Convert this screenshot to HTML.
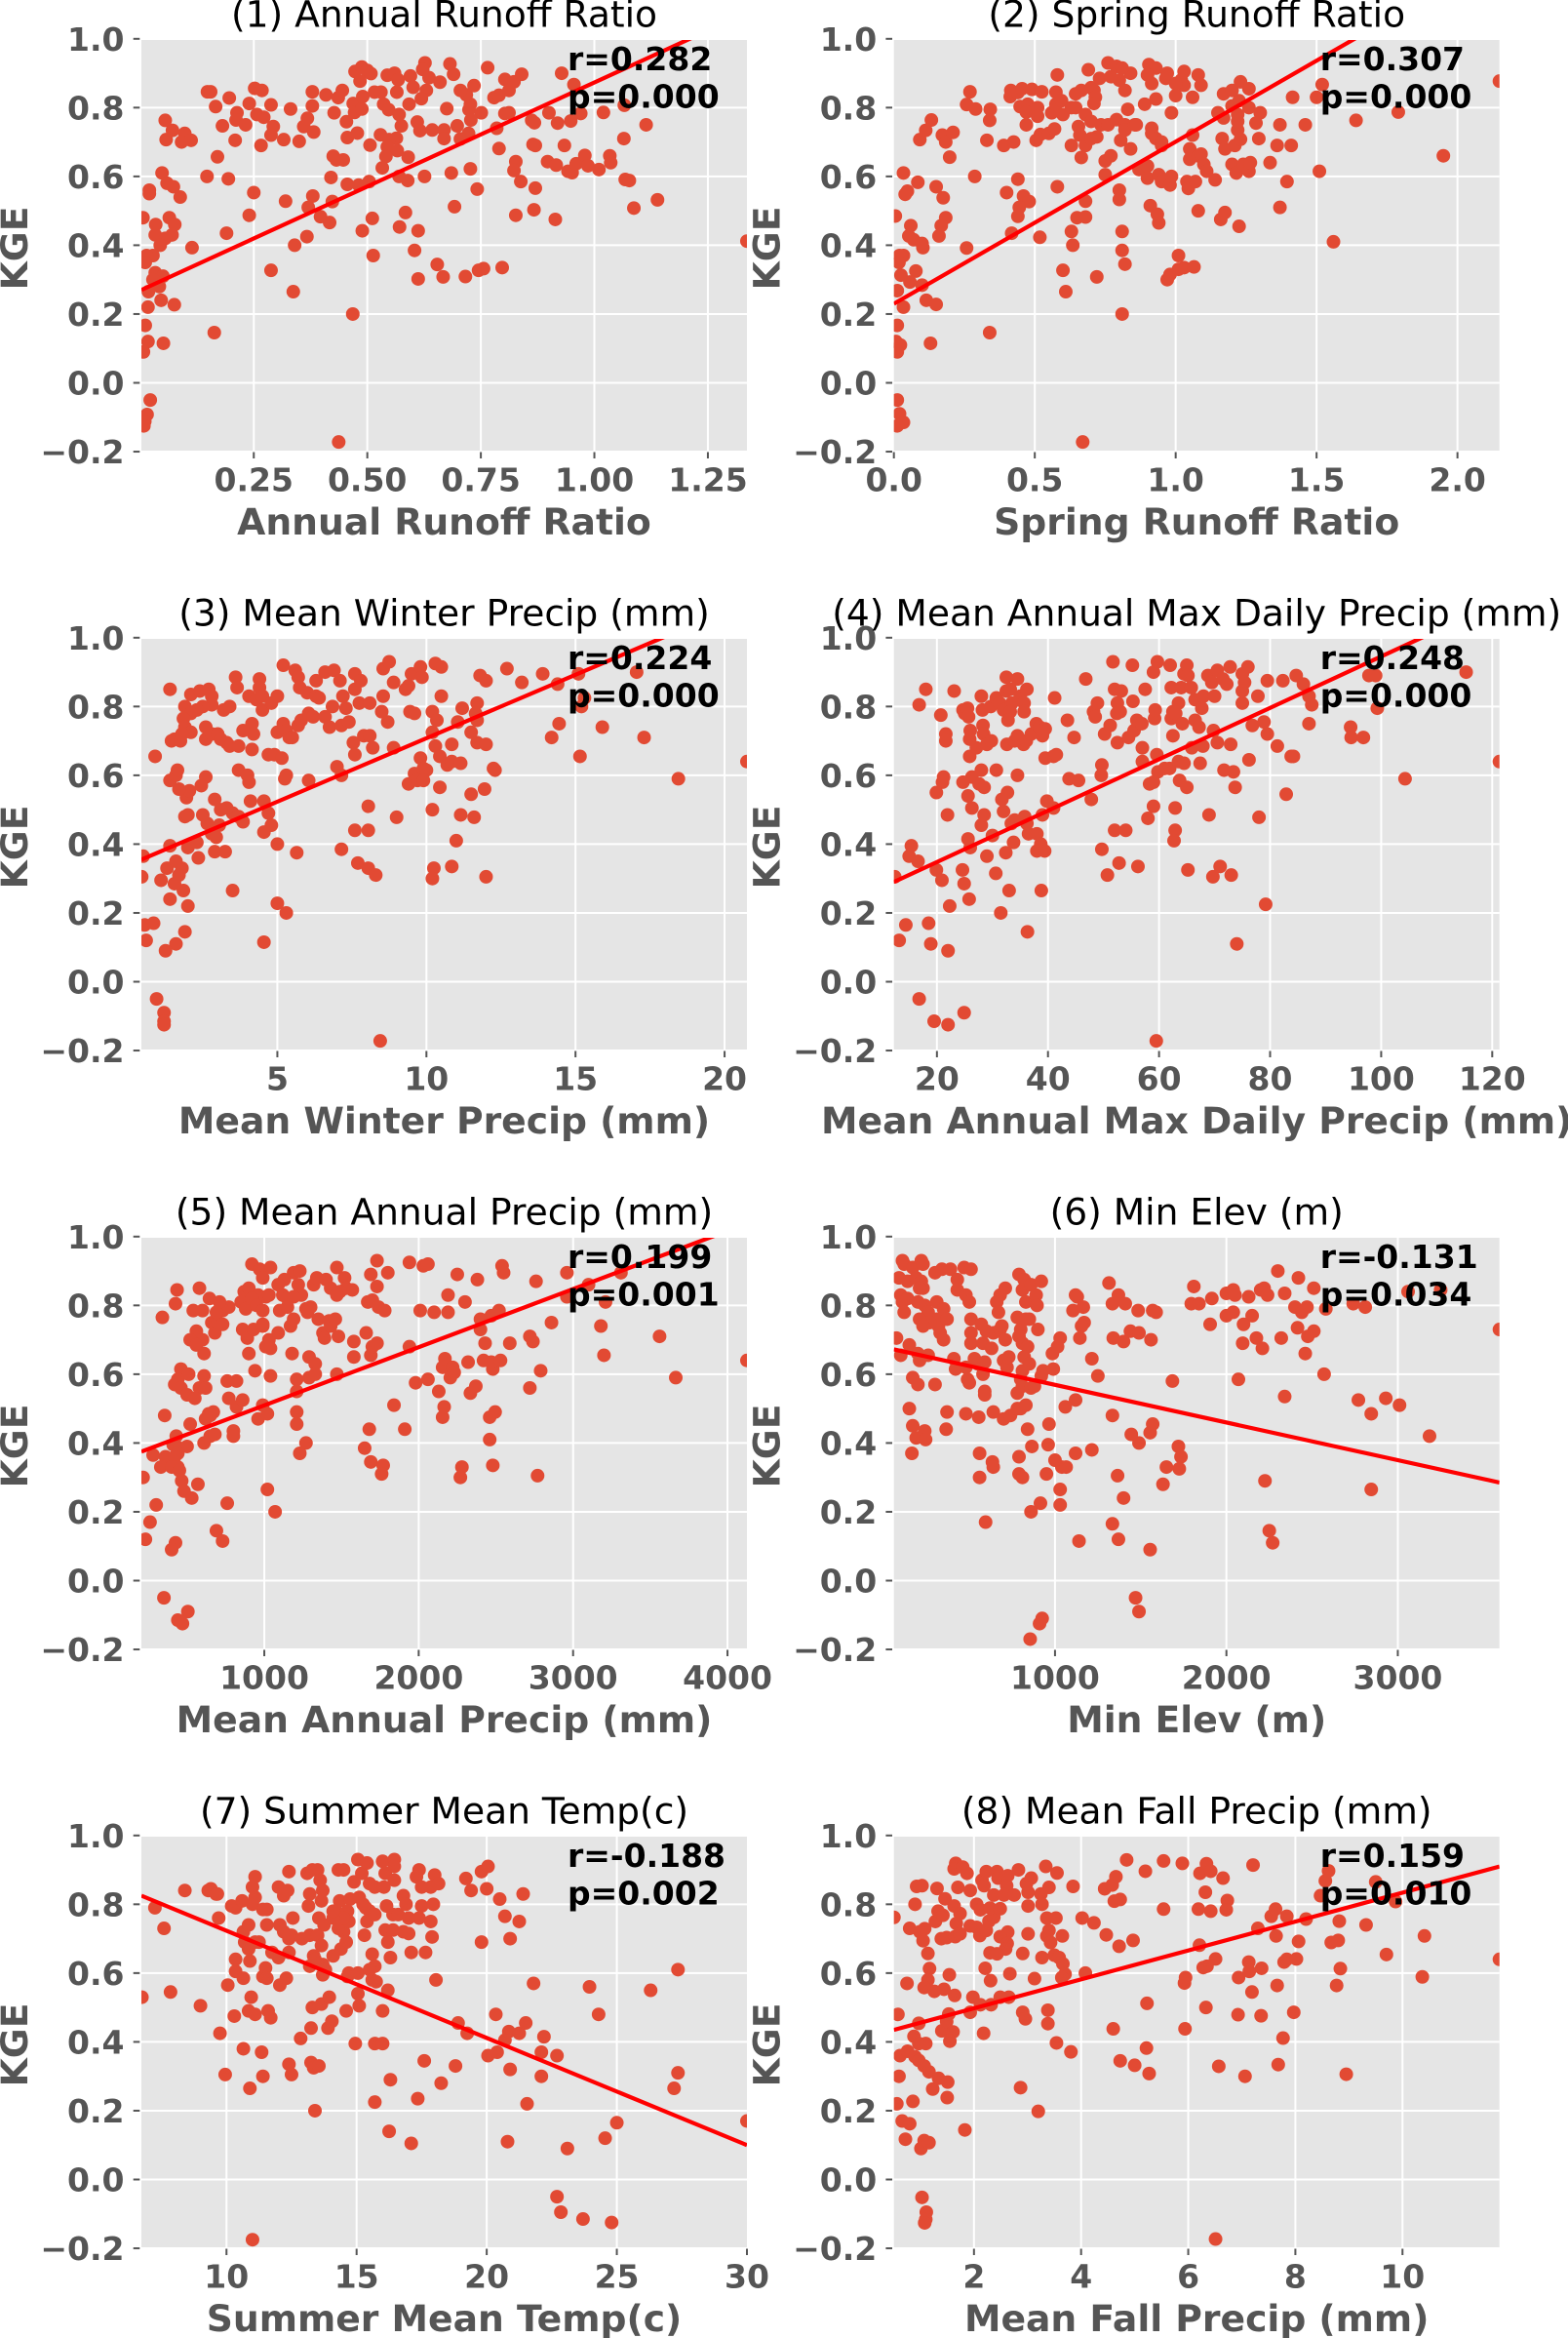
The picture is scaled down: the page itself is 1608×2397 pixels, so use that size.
<!DOCTYPE html>
<html lang="en">
<head>
<meta charset="utf-8">
<title>KGE scatter panels</title>
<style>
html,body{margin:0;padding:0;background:#fff;}
svg{display:block;}
text{font-family:"DejaVu Sans","Liberation Sans",sans-serif;}
</style>
</head>
<body>
<svg id="figure" xmlns="http://www.w3.org/2000/svg" width="1608" height="2397" viewBox="0 0 1608 2397"></svg>
<script>
const panelTitles = ["(1) Annual Runoff Ratio","(2) Spring Runoff Ratio","(3) Mean Winter Precip (mm)","(4) Mean Annual Max Daily Precip (mm)","(5) Mean Annual Precip (mm)","(6) Min Elev (m)","(7) Summer Mean Temp(c)","(8) Mean Fall Precip (mm)"];
const xAxisLabels = ["Annual Runoff Ratio","Spring Runoff Ratio","Mean Winter Precip (mm)","Mean Annual Max Daily Precip (mm)","Mean Annual Precip (mm)","Min Elev (m)","Summer Mean Temp(c)","Mean Fall Precip (mm)"];
const yAxisLabel = "KGE";
const yTicks = [-0.2,0,0.2,0.4,0.6,0.8,1];
const yTickLabels = ["\u22120.2","0.0","0.2","0.4","0.6","0.8","1.0"];
const xMins = [0.0025,0,0.44,12.25,204,60,6.73,0.505];
const xMaxs = [1.336,2.149,20.75,121.3,4126,3593,30,11.81];
const xTicks1 = [0.25,0.5,0.75,1,1.25];
const xTicks2 = [0,0.5,1,1.5,2];
const xTicks3 = [5,10,15,20];
const xTicks4 = [20,40,60,80,100,120];
const xTicks5 = [1000,2000,3000,4000];
const xTicks6 = [1000,2000,3000];
const xTicks7 = [10,15,20,25,30];
const xTicks8 = [2,4,6,8,10];
const xTickLabels1 = ["0.25","0.50","0.75","1.00","1.25"];
const xTickLabels2 = ["0.0","0.5","1.0","1.5","2.0"];
const xTickLabels3 = ["5","10","15","20"];
const xTickLabels4 = ["20","40","60","80","100","120"];
const xTickLabels5 = ["1000","2000","3000","4000"];
const xTickLabels6 = ["1000","2000","3000"];
const xTickLabels7 = ["10","15","20","25","30"];
const xTickLabels8 = ["2","4","6","8","10"];
const fitSlopes = [0.6045,0.471,0.0369,0.00747,0.000169,-0.0001095,-0.03116,0.042];
const fitIntercepts = [0.2685,0.23,0.3388,0.1985,0.3405,0.6786,1.0347,0.4138];
const rLabels = ["r=0.282","r=0.307","r=0.224","r=0.248","r=0.199","r=-0.131","r=-0.188","r=0.159"];
const pLabels = ["p=0.000","p=0.000","p=0.000","p=0.000","p=0.001","p=0.034","p=0.002","p=0.010"];

const points1 = [[.02,.56],[.02,.55],[.006,.48],[.034,.46],[.033,.43],[.048,.61],[.059,.58],[.073,.57],[.088,.54],[.064,.48],[.076,.46],[.07,.43],[.055,.42],[.044,.40],[.028,.37],[.014,.37],[.011,.35],[.033,.32],[.05,.31],[.028,.30],[.042,.28],[.018,.265],[.017,.22],[.046,.24],[.075,.227],[.011,.167],[.017,.12],[.007,.09],[.051,.115],[.022,-.05],[.015,-.092],[.01,-.112],[.008,-.125],[.114,.393],[.055,.763],[.057,.707],[.071,.734],[.098,.725],[.091,.70],[.112,.705],[.148,.846],[.155,.846],[.166,.803],[.196,.828],[.181,.747],[.213,.785],[.211,.764],[.232,.75],[.209,.705],[.24,.812],[.252,.856],[.268,.85],[.257,.78],[.272,.772],[.288,.808],[.293,.745],[.288,.72],[.266,.69],[.316,.707],[.331,.796],[.35,.702],[.36,.745],[.368,.769],[.379,.805],[.382,.729],[.379,.846],[.409,.837],[.427,.785],[.436,.829],[.445,.85],[.454,.759],[.456,.713],[.478,.726],[.469,.812],[.472,.786],[.488,.796],[.49,.832],[.473,.905],[.488,.918],[.5,.908],[.508,.899],[.484,.877],[.544,.894],[.56,.9],[.568,.881],[.595,.892],[.516,.845],[.53,.845],[.536,.81],[.547,.794],[.565,.845],[.601,.859],[.63,.85],[.619,.826],[.592,.81],[.57,.78],[.575,.747],[.529,.721],[.564,.711],[.548,.707],[.544,.686],[.566,.675],[.541,.658],[.533,.625],[.59,.656],[.61,.758],[.616,.733],[.643,.735],[.669,.735],[.669,.71],[.698,.747],[.675,.797],[.724,.794],[.727,.81],[.718,.837],[.705,.85],[.735,.864],[.69,.897],[.682,.927],[.627,.93],[.622,.911],[.636,.887],[.66,.874],[.765,.916],[.751,.785],[.728,.764],[.723,.725],[.705,.709],[.785,.74],[.79,.681],[.779,.829],[.79,.836],[.803,.882],[.812,.85],[.823,.875],[.84,.897],[.803,.783],[.812,.785],[.862,.763],[.868,.756],[.9,.785],[.919,.755],[.948,.761],[.97,.783],[1.02,.786],[1.066,.807],[1.114,.75],[1.065,.71],[.934,.69],[.87,.69],[.865,.693],[.827,.643],[.823,.617],[.838,.585],[.87,.566],[.897,.643],[.916,.633],[.942,.615],[.951,.611],[.96,.637],[.979,.661],[.986,.631],[1.01,.62],[1.034,.66],[1.036,.64],[1.068,.591],[1.077,.588],[1.087,.508],[1.139,.532],[.914,.475],[.867,.503],[.827,.487],[.928,.9],[.955,.867],[1.336,.412],[.742,.563],[.727,.622],[.692,.512],[.685,.61],[.626,.6],[.589,.588],[.57,.6],[.504,.585],[.481,.575],[.456,.577],[.42,.597],[.447,.648],[.432,.648],[.425,.659],[.147,.6],[.194,.593],[.17,.657],[.25,.553],[.32,.528],[.38,.543],[.37,.51],[.423,.527],[.397,.483],[.417,.466],[.24,.487],[.19,.435],[.34,.4],[.367,.425],[.489,.442],[.511,.478],[.584,.495],[.571,.453],[.612,.442],[.604,.385],[.513,.37],[.654,.344],[.667,.308],[.612,.302],[.716,.309],[.745,.327],[.756,.332],[.797,.335],[.288,.327],[.337,.265],[.468,.2],[.163,.146],[.437,-.172],[.506,.691]];
const points2 = [[.005,.485],[.034,.61],[.085,.583],[.048,.557],[.04,.548],[.06,.457],[.053,.427],[.07,.416],[.10,.405],[.103,.393],[.15,.57],[.175,.538],[.184,.48],[.168,.457],[.16,.427],[.02,.37],[.034,.37],[.018,.35],[.025,.313],[.012,.268],[.078,.325],[.057,.293],[.10,.284],[.115,.24],[.15,.228],[.034,.22],[.012,.167],[.007,.12],[.023,.11],[.012,.09],[.13,.115],[.34,.146],[.012,-.05],[.02,-.09],[.034,-.115],[.012,-.125],[.092,.707],[.113,.734],[.133,.764],[.172,.72],[.184,.70],[.21,.728],[.198,.656],[.258,.809],[.27,.846],[.29,.796],[.342,.795],[.34,.763],[.33,.705],[.39,.69],[.425,.70],[.287,.6],[.4,.553],[.44,.592],[.46,.543],[.48,.527],[.445,.51],[.44,.484],[.418,.435],[.518,.423],[.258,.392],[.413,.832],[.415,.85],[.44,.844],[.455,.855],[.49,.853],[.525,.846],[.448,.803],[.475,.81],[.47,.787],[.51,.8],[.51,.775],[.47,.75],[.505,.705],[.52,.722],[.55,.725],[.57,.738],[.56,.785],[.575,.845],[.575,.81],[.6,.78],[.595,.82],[.63,.8],[.645,.84],[.665,.85],[.7,.858],[.71,.85],[.715,.83],[.71,.812],[.645,.8],[.68,.78],[.7,.76],[.655,.745],[.66,.72],[.68,.69],[.72,.715],[.7,.71],[.63,.69],[.665,.655],[.75,.645],[.77,.66],[.75,.605],[.735,.75],[.76,.75],[.79,.765],[.82,.75],[.805,.705],[.84,.68],[.83,.795],[.82,.85],[.82,.735],[.855,.75],[.86,.75],[.87,.62],[.89,.81],[.84,.9],[.80,.88],[.76,.93],[.79,.92],[.73,.885],[.77,.89],[.81,.915],[.69,.91],[.58,.895],[.905,.925],[.93,.915],[.90,.895],[.915,.87],[.97,.9],[.965,.885],[1.03,.905],[1.02,.88],[1.03,.865],[1.08,.895],[1.09,.865],[1,.87],[.93,.825],[1.0,.835],[1.06,.83],[.985,.785],[.915,.74],[.915,.725],[.93,.71],[.95,.7],[.95,.69],[1.06,.72],[1.05,.68],[1.05,.65],[1.08,.66],[1.09,.665],[1.1,.635],[1.11,.615],[.9,.63],[.9,.595],[.94,.605],[.95,.585],[.98,.575],[.985,.6],[1.04,.585],[1.045,.565],[1.07,.585],[1.14,.59],[.91,.515],[.935,.49],[.94,.465],[1.08,.5],[1.16,.475],[1.175,.495],[1.225,.455],[1.165,.71],[1.175,.68],[1.21,.69],[1.23,.708],[1.22,.735],[1.22,.76],[1.22,.78],[1.15,.785],[1.17,.77],[1.17,.84],[1.2,.85],[1.2,.805],[1.23,.875],[1.26,.855],[1.26,.80],[1.225,.82],[1.3,.785],[1.285,.755],[1.295,.71],[1.2,.635],[1.215,.61],[1.24,.635],[1.26,.615],[1.265,.64],[1.335,.64],[1.36,.69],[1.37,.75],[1.41,.69],[1.395,.585],[1.37,.51],[1.415,.83],[1.46,.75],[1.5,.83],[1.52,.867],[1.51,.615],[1.56,.41],[1.64,.763],[1.79,.787],[1.95,.66],[2.149,.877],[.63,.44],[.635,.4],[.6,.327],[.61,.265],[.72,.308],[.81,.385],[.81,.44],[.82,.345],[.81,.2],[.67,-.172],[.97,.3],[.98,.315],[1.01,.37],[1.01,.33],[1.03,.335],[1.065,.337],[.65,.48],[.68,.482],[.68,.528],[.8,.56],[.8,.533],[.58,.57]];
const points3 = [[.5,.365],[.45,.305],[1.9,.48],[.9,.655],[1.4,.85],[1.9,.8],[2.1,.835],[2.4,.845],[2.7,.85],[2.8,.83],[2.8,.805],[2.5,.8],[2.3,.79],[2.1,.78],[1.85,.765],[1.9,.74],[2.1,.725],[1.45,.7],[1.55,.705],[1.75,.7],[1.8,.72],[2.6,.705],[2.6,.74],[2.8,.72],[3.0,.72],[3.1,.705],[3.3,.695],[3.4,.685],[3.7,.685],[3.2,.79],[3.4,.8],[3.6,.885],[3.65,.855],[4.05,.83],[4.4,.88],[4.4,.855],[4.3,.82],[4.5,.83],[4.5,.79],[4.8,.81],[5.0,.83],[5.0,.725],[5.2,.75],[5.3,.73],[5.4,.71],[5.5,.71],[4.15,.75],[4.2,.72],[3.85,.73],[4.15,.675],[4.7,.66],[4.9,.66],[5.15,.65],[5.2,.92],[5.6,.905],[5.7,.885],[5.75,.855],[6.0,.84],[6.3,.83],[6.4,.825],[6.3,.875],[6.6,.9],[6.9,.905],[7.1,.875],[5.7,.745],[5.8,.76],[6.05,.78],[6.2,.77],[6.6,.77],[6.75,.74],[7.15,.745],[7.4,.755],[6.85,.80],[7.2,.83],[7.3,.795],[7.6,.895],[7.6,.85],[7.8,.875],[7.75,.81],[8.1,.81],[8.5,.785],[8.7,.755],[8.55,.83],[8.55,.91],[8.75,.93],[8.9,.87],[9.3,.85],[9.4,.86],[9.5,.895],[9.45,.785],[9.6,.78],[9.8,.915],[9.85,.885],[7.55,.695],[7.9,.715],[8.1,.715],[8.2,.68],[8.9,.68],[7.6,.66],[7.0,.625],[7.15,.6],[9.6,.605],[9.8,.65],[9.9,.62],[10.0,.615],[9.4,.575],[9.7,.585],[9.9,.585],[10.2,.725],[10.2,.785],[10.35,.76],[10.3,.685],[10.45,.655],[10.7,.63],[10.85,.64],[11.15,.635],[10.85,.69],[11.05,.755],[11.2,.795],[11.5,.725],[11.7,.81],[11.65,.78],[11.7,.76],[11.7,.695],[12,.69],[10.3,.925],[10.5,.915],[10.5,.83],[11.8,.89],[12,.875],[12.7,.91],[13.2,.87],[13.9,.895],[14.4,.865],[15.1,.895],[15.2,.8],[15.3,.825],[14.2,.71],[14.45,.75],[15.9,.74],[17.05,.9],[17.3,.71],[15.15,.655],[18.45,.59],[20.75,.64],[10.45,.565],[11.5,.545],[11.95,.56],[12.25,.62],[12.3,.615],[10.2,.5],[11.15,.485],[11.6,.478],[9,.478],[8.05,.51],[7.6,.44],[8.05,.44],[7.15,.385],[7.7,.345],[8.05,.33],[8.3,.31],[10.25,.33],[10.2,.3],[10.85,.335],[11,.41],[12,.305],[5.65,.375],[5.0,.4],[5,.228],[5.3,.2],[4.55,.115],[8.45,-.172],[3.5,.265],[1.6,.11],[1.25,.09],[.6,.12],[.55,.165],[.85,.17],[1.9,.145],[2,.22],[1.4,.24],[1.85,.265],[1.1,.295],[1.55,.285],[1.8,.33],[1.3,.33],[1.6,.35],[1.7,.31],[2.35,.36],[2.9,.378],[3.25,.378],[1.4,.395],[2,.39],[2.3,.405],[2.8,.43],[2.95,.42],[3.05,.455],[2.65,.46],[2.5,.485],[2,.485],[3.85,.465],[3.5,.49],[3.7,.48],[3.3,.505],[3.1,.5],[2.9,.53],[4.1,.525],[4.55,.435],[4.8,.455],[4.7,.49],[4.55,.525],[5.25,.59],[5.3,.6],[6.05,.585],[2.6,.595],[2.45,.57],[1.95,.535],[2.05,.555],[1.7,.56],[1.4,.585],[1.6,.6],[1.65,.615],[3.7,.615],[4.0,.6],[4.05,.58],[.95,-.05],[1.2,-.09],[1.2,-.115],[1.2,-.125]];
const points4 = [[13.2,.12],[14.4,.165],[12.4,.305],[15,.365],[15.4,.395],[16.6,.35],[18.5,.17],[18.9,.11],[16.8,-.05],[19.5,-.115],[22,-.125],[24.9,-.09],[22,.09],[22.3,.22],[25.8,.24],[24.9,.285],[24.6,.325],[19.9,.325],[20.9,.295],[21,.58],[21.2,.595],[19.9,.55],[21.9,.485],[18,.85],[16.8,.805],[20.7,.775],[21.6,.72],[21.6,.7],[23.1,.845],[24.7,.79],[25,.78],[25.5,.795],[25.7,.77],[26,.73],[25.9,.705],[25.9,.655],[27.1,.68],[28,.83],[28.2,.79],[28.3,.745],[28.4,.72],[29,.69],[29.8,.7],[29.7,.8],[30.7,.825],[31.3,.81],[32,.79],[32.5,.845],[32.5,.885],[33.2,.85],[33.5,.81],[33.2,.785],[32.8,.76],[34.5,.88],[35,.83],[36.2,.85],[35.7,.81],[35.7,.785],[32.6,.69],[34,.7],[34.5,.715],[35.6,.69],[36.1,.7],[37,.72],[37.9,.75],[38.5,.74],[39,.715],[39.5,.735],[39.5,.65],[41,.655],[41.5,.66],[41.2,.825],[43.5,.76],[44.7,.71],[43.8,.59],[45.5,.585],[46.8,.88],[48.2,.785],[48.5,.77],[48.9,.81],[50.2,.72],[49.7,.63],[49.6,.6],[47.8,.53],[51.2,.745],[52,.85],[52.5,.81],[52.4,.78],[53,.785],[53.2,.845],[52.5,.695],[54.5,.71],[55.5,.73],[56,.76],[55.2,.92],[55.3,.815],[51.7,.93],[57.5,.85],[56.9,.75],[57,.68],[57,.64],[59,.9],[59.7,.93],[59.2,.765],[59.3,.79],[59.6,.66],[62,.92],[62.2,.855],[62.2,.765],[62.5,.785],[63,.78],[63.5,.81],[64,.855],[64.5,.895],[65,.92],[65.2,.89],[65.8,.855],[66.5,.82],[68,.83],[67.7,.795],[66.5,.76],[67.2,.74],[64.2,.75],[62.5,.715],[65.9,.68],[67.9,.685],[61,.62],[61.9,.62],[63.5,.64],[64.5,.635],[67.4,.635],[59.8,.61],[59,.58],[58.3,.575],[63.7,.585],[65,.565],[62.9,.505],[59,.51],[58,.475],[52,.44],[54,.44],[62.9,.44],[62.7,.41],[49.7,.385],[52.8,.345],[56.2,.335],[50.7,.31],[65.2,.325],[69.7,.305],[71,.335],[73,.31],[79.2,.225],[74,.11],[59.5,-.172],[38.8,.265],[36.3,.145],[31.5,.2],[33,.265],[30.6,.315],[29,.365],[32.4,.375],[33.8,.405],[26,.39],[25.6,.415],[30,.425],[28,.455],[28.5,.485],[32,.495],[33.4,.46],[34,.47],[35.8,.48],[36.2,.46],[36.5,.43],[38,.43],[38.7,.4],[38,.38],[39.4,.38],[39,.485],[41,.505],[39.8,.525],[25.6,.54],[26.3,.505],[32.7,.55],[31.7,.53],[26.3,.595],[24.7,.58],[27.6,.575],[28.5,.565],[28,.615],[30.7,.615],[34.5,.6],[68.8,.89],[69.5,.87],[70.5,.905],[71.5,.88],[72.2,.865],[72.8,.915],[75,.895],[75.4,.87],[76,.915],[75,.845],[75,.81],[77.8,.83],[79.5,.875],[82.3,.875],[84.7,.89],[86,.865],[87,.83],[87.5,.805],[70,.83],[69.8,.73],[70.5,.695],[72.9,.69],[76.8,.745],[78.9,.755],[79.5,.72],[81.3,.685],[83.8,.655],[84.2,.655],[76.2,.645],[71.7,.615],[73.4,.61],[73.7,.565],[82.9,.545],[69,.485],[78,.478],[87,.75],[94.5,.74],[94.6,.71],[96.8,.71],[97.8,.89],[99,.89],[99.3,.795],[104.3,.59],[115.3,.9],[121.3,.64]];
const points5 = [[215,.3],[230,.12],[260,.17],[300,.22],[280,.365],[355,.48],[340,.765],[425,.805],[435,.845],[540,.785],[580,.85],[600,.785],[600,.7],[645,.82],[560,.725],[520,.7],[560,.685],[610,.66],[460,.615],[440,.585],[420,.57],[460,.56],[500,.54],[510,.6],[580,.56],[550,.53],[610,.595],[430,.42],[520,.455],[640,.485],[620,.47],[670,.49],[650,.42],[680,.425],[610,.4],[410,.395],[450,.385],[500,.39],[440,.37],[360,.36],[420,.36],[330,.33],[440,.33],[400,.33],[450,.32],[465,.29],[480,.26],[570,.28],[530,.24],[425,.11],[400,.09],[690,.145],[730,.115],[760,.225],[350,-.05],[440,-.115],[470,-.125],[505,-.09],[660,.75],[680,.72],[700,.75],[730,.745],[770,.795],[820,.505],[860,.525],[770,.53],[800,.435],[800,.42],[820,.58],[940,.61],[900,.66],[860,.73],[890,.705],[930,.73],[990,.74],[1030,.70],[1040,.675],[1010,.68],[1090,.72],[1170,.74],[1190,.76],[1180,.66],[1210,.585],[1040,.595],[960,.47],[1020,.485],[990,.51],[1290,.59],[1290,.65],[1330,.63],[1330,.6],[1270,.79],[1300,.795],[1350,.76],[1420,.755],[1380,.72],[1390,.705],[1480,.71],[1470,.6],[1580,.695],[1580,.65],[1660,.72],[1690,.655],[1700,.68],[1730,.69],[1940,.68],[1210,.55],[1210,.49],[1210,.455],[1270,.4],[1230,.37],[1650,.385],[1690,.345],[1770,.335],[1760,.31],[1680,.44],[1840,.51],[1910,.44],[2130,.55],[1980,.575],[2060,.585],[2155,.475],[2165,.505],[2155,.62],[2170,.645],[2205,.59],[2220,.62],[2230,.605],[2320,.635],[2335,.545],[2370,.565],[2420,.64],[2480,.615],[2470,.635],[2530,.64],[2460,.475],[2495,.49],[2460,.41],[2480,.335],[2770,.305],[2280,.33],[2270,.3],[2720,.56],[2790,.61],[2740,.695],[2720,.71],[2590,.69],[2430,.69],[2400,.73],[2400,.76],[2470,.77],[2520,.785],[2860,.75],[3180,.74],[3200,.655],[3560,.71],[3665,.59],[4126,.64],[3210,.81],[3100,.86],[3310,.895],[2960,.895],[2960,.825],[2760,.87],[2540,.915],[2550,.895],[2380,.875],[2250,.89],[2190,.83],[2300,.81],[2010,.785],[2100,.78],[2190,.78],[1940,.925],[2030,.915],[2060,.92],[1800,.895],[1730,.93],[1690,.89],[1730,.855],[1470,.91],[1520,.88],[1530,.85],[1570,.845],[1670,.81],[1700,.815],[1740,.795],[1780,.785],[1280,.78],[1220,.86],[1240,.83],[1320,.86],[1340,.88],[1400,.875],[1430,.85],[1490,.84],[1470,.83],[1190,.895],[1230,.9],[1130,.875],[1040,.91],[920,.92],[970,.905],[990,.88],[870,.84],[900,.85],[960,.83],[1010,.825],[1030,.83],[1090,.86],[1120,.83],[1150,.82],[1190,.825],[850,.81],[880,.79],[920,.82],[950,.8],[990,.785],[1100,.785],[1150,.795],[990,.745],[730,.785],[690,.78],[710,.81],[760,.58],[1020,.265],[1070,.2],[650,.48],[620,.56],[1430,.74],[1460,.76]];
const points6 = [[110,.93],[90,.88],[120,.92],[140,.87],[170,.91],[220,.93],[230,.92],[190,.88],[220,.87],[230,.85],[210,.85],[100,.83],[110,.81],[140,.82],[120,.78],[200,.81],[240,.8],[260,.78],[310,.81],[310,.76],[320,.74],[350,.79],[370,.76],[330,.72],[350,.70],[270,.75],[210,.76],[230,.74],[300,.895],[340,.905],[390,.905],[430,.875],[430,.845],[480,.83],[500,.81],[470,.91],[510,.905],[75,.705],[150,.685],[100,.655],[200,.66],[210,.64],[170,.59],[200,.57],[300,.57],[410,.645],[420,.615],[480,.62],[490,.585],[500,.575],[530,.645],[550,.63],[590,.635],[580,.6],[590,.55],[590,.54],[510,.76],[570,.745],[510,.72],[510,.69],[580,.69],[630,.675],[600,.725],[640,.72],[670,.725],[680,.73],[660,.81],[680,.83],[710,.85],[670,.78],[690,.74],[710,.70],[700,.64],[720,.62],[730,.65],[790,.89],[820,.875],[810,.845],[830,.81],[780,.765],[800,.73],[790,.71],[810,.69],[840,.68],[820,.65],[850,.63],[810,.61],[800,.585],[780,.545],[810,.565],[860,.56],[880,.565],[850,.76],[830,.76],[860,.86],[890,.83],[895,.8],[920,.87],[900,.73],[920,.595],[930,.61],[990,.615],[985,.66],[1015,.68],[1030,.705],[1105,.785],[1120,.83],[1130,.825],[1165,.795],[1170,.75],[1155,.74],[1145,.705],[1215,.645],[1250,.595],[1120,.525],[1060,.505],[1315,.865],[1335,.805],[1370,.83],[1410,.805],[1485,.785],[1570,.785],[1590,.78],[1340,.705],[1400,.695],[1440,.725],[1490,.72],[1560,.70],[1685,.58],[1810,.855],[1795,.805],[1840,.805],[1915,.82],[1905,.745],[2000,.835],[2040,.845],[2050,.83],[2130,.825],[2000,.77],[2040,.78],[2150,.77],[2100,.745],[2175,.705],[2210,.675],[2095,.69],[2200,.845],[2220,.85],[2240,.83],[2300,.9],[2340,.835],[2320,.705],[2415,.735],[2400,.795],[2440,.78],[2470,.795],[2420,.88],[2510,.85],[2580,.79],[2510,.725],[2475,.71],[2460,.66],[2570,.6],[2070,.585],[2340,.535],[2770,.525],[2930,.53],[3010,.51],[2845,.485],[3185,.42],[2225,.29],[2845,.265],[2250,.145],[2270,.11],[2740,.805],[2810,.795],[3060,.84],[3250,.845],[3593,.73],[260,.655],[150,.5],[190,.415],[170,.45],[240,.435],[245,.41],[165,.37],[365,.44],[370,.49],[480,.485],[555,.475],[640,.49],[700,.47],[740,.48],[780,.5],[800,.5],[830,.51],[840,.44],[865,.39],[560,.37],[635,.345],[640,.33],[560,.3],[790,.36],[790,.31],[810,.3],[950,.31],[960,.395],[965,.455],[1000,.35],[1040,.33],[1065,.33],[1120,.37],[1215,.38],[1335,.48],[1445,.425],[1490,.4],[1555,.43],[1570,.455],[1720,.39],[1735,.36],[1725,.325],[1650,.33],[1630,.28],[1365,.305],[1400,.24],[1030,.265],[1030,.22],[915,.225],[860,.2],[595,.17],[1140,.115],[1335,.165],[1370,.12],[1555,.09],[1470,-.05],[1490,-.09],[925,-.11],[910,-.125],[855,-.17]];
const points7 = [[6.75,.53],[7.25,.79],[7.6,.73],[7.85,.545],[8.4,.84],[9,.505],[9.3,.84],[9.4,.845],[9.6,.83],[9.65,.83],[9.7,.76],[9.75,.425],[9.95,.305],[10.05,.565],[10.2,.795],[10.35,.79],[10.6,.81],[10.3,.475],[10.35,.64],[10.35,.605],[10.65,.585],[10.65,.38],[10.85,.49],[10.9,.265],[10.9,.635],[10.95,.53],[11.1,.48],[10.65,.72],[10.85,.74],[10.7,.69],[10.85,.67],[11.1,.69],[11.25,.69],[11,.8],[11.1,.82],[11,.85],[11.1,.88],[11.4,.785],[11.55,.785],[11.55,.74],[11.35,.37],[11.4,.3],[11.4,.59],[11.5,.615],[11.55,.585],[11.6,.49],[11.7,.47],[12,.85],[12.05,.74],[11.75,.66],[12,.645],[12.05,.565],[12.2,.825],[12.35,.84],[12.4,.895],[12.4,.66],[12.3,.585],[12.2,.72],[12.4,.7],[12.55,.76],[12.5,.71],[12.9,.7],[12.85,.41],[12.4,.335],[12.5,.305],[13.1,.89],[13.2,.83],[13.3,.9],[13.2,.71],[13.35,.65],[13.15,.795],[13.25,.34],[13.3,.5],[13.65,.51],[13.25,.44],[13.35,.325],[13.55,.33],[13.5,.9],[13.6,.87],[13.7,.84],[13.65,.81],[13.55,.76],[13.75,.74],[13.5,.71],[13.65,.68],[13.7,.625],[13.7,.595],[13.95,.53],[13.9,.44],[14.05,.46],[14.1,.65],[14.3,.9],[14.5,.9],[14.2,.78],[14.35,.81],[14.5,.72],[14.3,.73],[14.7,.75],[14.75,.815],[14.65,.78],[14.6,.49],[14.7,.6],[14.65,.59],[14.9,.865],[14.95,.395],[15.05,.93],[15.2,.89],[15.1,.82],[15.3,.71],[15.4,.75],[15.05,.6],[15.1,.505],[15.05,.54],[15.4,.92],[15.5,.86],[15.7,.85],[15.5,.78],[15.7,.77],[15.6,.655],[15.7,.62],[15.5,.61],[15.6,.58],[15.75,.575],[15.7,.395],[15.7,.225],[16,.925],[16.1,.89],[16.05,.85],[16,.49],[16,.395],[16.1,.725],[16.15,.795],[16.2,.69],[16.3,.645],[16.45,.93],[16.45,.91],[16.45,.87],[16.4,.77],[16.4,.725],[16.2,.55],[16.3,.29],[16.25,.14],[16.6,.77],[16.8,.825],[16.9,.8],[16.8,.72],[17,.76],[17,.715],[17.1,.66],[17.1,.105],[17.3,.88],[17.4,.9],[17.5,.85],[17.5,.795],[17.4,.76],[17.6,.345],[17.35,.235],[17.65,.66],[17.85,.75],[17.85,.85],[17.95,.8],[17.9,.705],[18,.885],[18.15,.86],[18.05,.58],[18.25,.28],[18.8,.33],[18.9,.455],[19.2,.875],[19.25,.425],[19.4,.84],[19.8,.895],[19.8,.69],[20,.845],[20.05,.91],[20.05,.36],[20.35,.48],[20.4,.37],[20.5,.815],[20.7,.765],[20.7,.405],[20.8,.11],[20.85,.43],[20.9,.7],[20.9,.32],[21.25,.75],[21.25,.425],[21.4,.83],[21.5,.455],[21.55,.22],[21.8,.57],[22.1,.37],[22.1,.3],[22.2,.415],[22.7,.36],[22.7,-.05],[22.85,-.095],[23.1,.09],[23.7,-.115],[23.95,.56],[24.3,.48],[24.55,.12],[24.8,-.125],[25,.165],[26.3,.55],[27.2,.265],[27.35,.31],[27.35,.61],[30,.17],[11,-.175],[13.4,.2],[13.2,.62],[13.4,.64],[13.8,.61],[14.6,.69],[14.4,.67],[14.5,.76],[15.25,.8],[15.35,.79],[14.1,.76],[14.1,.78],[12.4,.71]];
const points8 = [[.505,.762],[.56,.22],[.58,.48],[.62,.36],[.6,.30],[.66,.17],[.8,.162],[.72,.117],[.86,.227],[.76,.373],[.75,.57],[.8,.73],[.9,.80],[.93,.852],[1.03,.854],[.97,.454],[.88,.416],[.97,.395],[1.1,.395],[.9,.357],[.97,.346],[1.07,.33],[1.16,.313],[1.23,.263],[1.34,.294],[1.51,.283],[1.5,.238],[1.01,.09],[1.07,.113],[1.16,.107],[1.03,-.052],[1.11,-.095],[1.1,-.116],[1.08,-.126],[1.83,.144],[1.08,.729],[.99,.72],[1.05,.694],[1.14,.657],[1.17,.613],[1.14,.58],[1.07,.558],[1.26,.547],[1.44,.553],[1.64,.535],[1.54,.595],[1.28,.75],[1.31,.846],[1.33,.78],[1.46,.816],[1.42,.768],[1.63,.795],[1.74,.773],[1.67,.744],[1.7,.849],[1.66,.919],[1.63,.903],[1.79,.908],[1.87,.89],[1.93,.84],[1.39,.70],[1.49,.703],[1.65,.706],[1.74,.714],[1.93,.737],[2.05,.733],[2.11,.709],[2.23,.724],[2.28,.751],[2.37,.762],[2.05,.80],[2.12,.784],[2.3,.789],[2.49,.787],[2.15,.87],[2.23,.895],[2.43,.895],[2.45,.876],[2.19,.854],[2.37,.827],[2.61,.854],[2.63,.883],[2.83,.90],[2.56,.827],[2.75,.827],[2.98,.86],[3.07,.876],[3.01,.835],[3.01,.795],[3.34,.91],[3.55,.891],[3.4,.849],[3.25,.83],[3.27,.80],[3.85,.852],[2.63,.719],[2.49,.706],[2.62,.686],[2.59,.67],[2.3,.659],[2.43,.656],[2.91,.657],[3.01,.714],[3.36,.76],[3.53,.76],[3.4,.724],[3.36,.708],[3.43,.689],[3.65,.708],[3.27,.645],[3.5,.652],[3.59,.645],[3.66,.627],[3.7,.597],[3.64,.587],[2.21,.614],[2.31,.578],[2.67,.598],[3.13,.584],[2.49,.53],[2.65,.53],[1.98,.53],[2.12,.508],[2.32,.508],[1.93,.486],[1.53,.481],[1.49,.459],[1.4,.432],[1.61,.429],[1.55,.402],[2.18,.425],[2.91,.486],[2.96,.467],[3.38,.492],[3.38,.453],[3.54,.397],[3.81,.371],[2.87,.267],[3.2,.198],[4.02,.76],[4.24,.746],[4.47,.711],[4.71,.678],[4.97,.695],[4.08,.60],[4.44,.845],[4.58,.856],[4.65,.88],[4.62,.809],[4.73,.814],[4.85,.929],[5.2,.896],[5.54,.926],[5.89,.919],[5.54,.786],[4.6,.438],[4.73,.345],[5,.332],[5.22,.382],[5.27,.308],[5.23,.512],[5.94,.438],[5.93,.571],[5.95,.587],[6.19,.786],[6.42,.78],[6.32,.835],[6.22,.89],[6.34,.918],[6.42,.896],[6.65,.876],[6.73,.811],[6.71,.784],[6.21,.681],[6.28,.616],[6.35,.62],[6.51,.641],[6.33,.50],[6.57,.329],[6.51,-.173],[6.93,.479],[6.94,.587],[7.19,.545],[7.14,.605],[7.13,.632],[7.37,.614],[7.36,.476],[7.06,.30],[7.21,.914],[7.3,.73],[7.55,.765],[7.63,.786],[7.64,.708],[7.66,.564],[7.77,.411],[7.68,.334],[7.79,.632],[7.84,.64],[7.84,.765],[7.97,.486],[8.06,.692],[8.02,.641],[8.2,.757],[8.62,.897],[8.56,.868],[8.47,.825],[8.67,.689],[8.8,.695],[8.82,.751],[8.84,.613],[8.77,.564],[8.95,.306],[9.32,.74],[9.5,.865],[9.7,.654],[9.87,.808],[10.37,.589],[10.41,.708],[11.81,.64]];

const kgeSeries = [points1,points2,points3,points4,points5,points6,points7,points8];
const xTickSets = [xTicks1,xTicks2,xTicks3,xTicks4,xTicks5,xTicks6,xTicks7,xTicks8];
const xTickLabelSets = [xTickLabels1,xTickLabels2,xTickLabels3,xTickLabels4,xTickLabels5,xTickLabels6,xTickLabels7,xTickLabels8];

const SVGNS = "http://www.w3.org/2000/svg";
const figure = document.getElementById("figure");
const panelLefts = [145, 916.7];
const panelTops = [41, 655, 1269, 1883];
const panelW = 621;
const panelH = 421;
const TICK = "#555555";

function make(parent, tag, attrs, content) {
  const el = document.createElementNS(SVGNS, tag);
  for (const k in attrs) el.setAttribute(k, attrs[k]);
  if (content !== undefined) el.textContent = content;
  parent.appendChild(el);
  return el;
}
function xAxis(i, v) {
  const left = panelLefts[i % 2];
  return left + (v - xMins[i]) / (xMaxs[i] - xMins[i]) * panelW;
}
function yAxis(i, v) {
  const top = panelTops[Math.floor(i / 2)];
  return top - 1.2 + (1 - v) * 352.7;
}

kgeSeries.forEach(function (points, i) {
  const left = panelLefts[i % 2];
  const top = panelTops[Math.floor(i / 2)];
  const right = left + panelW;
  const bottom = top + panelH;
  const cx = left + panelW / 2;

  const g = make(figure, "g", {});
  
  

  const clip = make(g, "clipPath", {id: "clip" + i});
  make(clip, "rect", {x: left, y: top, width: panelW, height: panelH});

  const bg = make(g, "rect", {x: left, y: top, width: panelW, height: panelH, fill: "#E5E5E5"});
  
  

  yTicks.forEach(function (t, k) {
    const y = yAxis(i, t);
    if (y > top + 1 && y < bottom - 1) {
      const grid = make(g, "line", {x1: left, x2: right, y1: y, y2: y, stroke: "#fff", "stroke-width": 2});
      
      
    }
    const tick = make(g, "line", {x1: left - 8.3, x2: left - 1.7, y1: y, y2: y, stroke: TICK, "stroke-width": 2});
    
    
    const label = make(g, "text", {x: left - 17.5, y: y + 12, "text-anchor": "end", "font-size": 33, "font-weight": "bold", fill: TICK}, yTickLabels[k]);
    
    
  });

  xTickSets[i].forEach(function (t, k) {
    const x = xAxis(i, t);
    if (x > left + 1 && x < right - 1) {
      const grid = make(g, "line", {x1: x, x2: x, y1: top, y2: bottom, stroke: "#fff", "stroke-width": 2});
      
      
    }
    const tick = make(g, "line", {x1: x, x2: x, y1: bottom + 1.5, y2: bottom + 8, stroke: TICK, "stroke-width": 2});
    
    
    const label = make(g, "text", {x: x, y: bottom + 41.5, "text-anchor": "middle", "font-size": 33, "font-weight": "bold", fill: TICK}, xTickLabelSets[i][k]);
    
    
  });

  const dots = make(g, "g", {"clip-path": "url(#clip" + i + ")", fill: "#E24A33"});
  
  
  points.forEach(function (p) {
    const dot = make(dots, "circle", {cx: xAxis(i, p[0]), cy: yAxis(i, p[1]), r: 7});
    
    
  });

  const fit = make(g, "line", {
    x1: xAxis(i, xMins[i]), y1: yAxis(i, fitIntercepts[i] + fitSlopes[i] * xMins[i]),
    x2: xAxis(i, xMaxs[i]), y2: yAxis(i, fitIntercepts[i] + fitSlopes[i] * xMaxs[i]),
    stroke: "#FF0000", "stroke-width": 4.2, "clip-path": "url(#clip" + i + ")"
  });
  
  

  const rText = make(g, "text", {x: left + 437, y: top + 31, "font-size": 33, "font-weight": "bold", fill: "#000"}, rLabels[i]);
  
  
  const pText = make(g, "text", {x: left + 437, y: top + 69.5, "font-size": 33, "font-weight": "bold", fill: "#000"}, pLabels[i]);
  
  

  const title = make(g, "text", {x: cx, y: top - 13.5, "text-anchor": "middle", "font-size": 37.6, fill: "#000"}, panelTitles[i]);
  
  

  const xTitle = make(g, "text", {x: cx, y: bottom + 86, "text-anchor": "middle", "font-size": 37.7, "font-weight": "bold", fill: TICK}, xAxisLabels[i]);
  
  

  const yx = left - 117;
  const yy = top + panelH / 2 + 3;
  const yTitle = make(g, "text", {x: yx, y: yy, "text-anchor": "middle", "font-size": 37.7, "font-weight": "bold", fill: TICK, transform: "rotate(-90 " + yx + " " + yy + ")"}, yAxisLabel);
  
  
});
</script>
</body>
</html>
